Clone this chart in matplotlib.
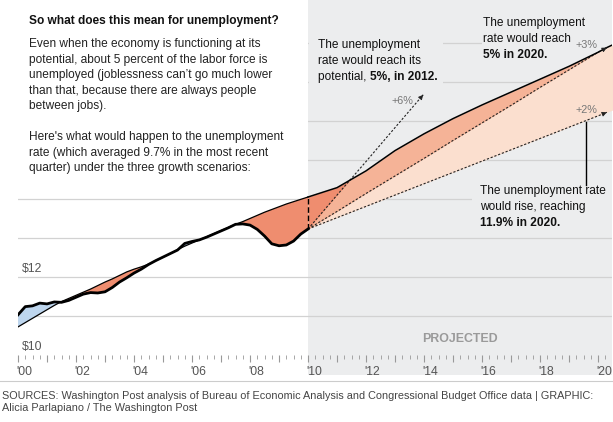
import matplotlib.pyplot as plt
import matplotlib.transforms as mtransforms
from matplotlib.patches import Rectangle
from matplotlib.lines import Line2D
import numpy as np

plt.rcParams['font.family'] = ['Liberation Sans', 'DejaVu Sans']

# ---- data (trillions of dollars) ----
hist_years = np.arange(2000, 2010.01, 0.25)
actual_gdp = [11.03, 11.24, 11.26, 11.33, 11.31, 11.36, 11.35, 11.40, 11.48, 11.56,
              11.60, 11.59, 11.62, 11.73, 11.87, 11.98, 12.10, 12.20, 12.32, 12.42,
              12.51, 12.60, 12.69, 12.86, 12.91, 12.95, 13.02, 13.10, 13.18, 13.26,
              13.35, 13.36, 13.33, 13.22, 13.05, 12.85, 12.80, 12.82, 12.92, 13.10,
              13.23]
potential_hist = [10.72, 10.83, 10.94, 11.05, 11.16, 11.27, 11.37, 11.45, 11.53, 11.61,
                  11.69, 11.78, 11.87, 11.95, 12.04, 12.13, 12.20, 12.26, 12.33, 12.42,
                  12.51, 12.60, 12.70, 12.79, 12.87, 12.95, 13.03, 13.11, 13.19, 13.27,
                  13.35, 13.42, 13.50, 13.58, 13.66, 13.73, 13.80, 13.87, 13.93, 13.99,
                  14.05]

proj_years = [2010, 2011, 2012, 2013, 2014, 2015, 2016, 2017, 2018, 2019, 2020, 2020.3, 2020.5]
potential_proj = [14.05, 14.29, 14.72, 15.24, 15.67, 16.06, 16.41, 16.74, 17.07, 17.40, 17.76, 17.88, 17.95]
growth_2pct = [13.23, 13.52, 13.81, 14.10, 14.39, 14.68, 14.97, 15.26, 15.55, 15.84, 16.13, 16.22, 16.28]
growth_3pct = [13.23, 13.68, 14.14, 14.59, 15.04, 15.50, 15.95, 16.40, 16.86, 17.31, 17.76, 17.88]
growth_6_years = [2010, 2011, 2012, 2013, 2013.97]
growth_6pct = [13.23, 14.10, 14.96, 15.83, 16.67]

y_labels = [10, 12]
grid_values = [11, 12, 13, 14, 15, 16, 17, 18]

# ---- colours ----
grey_bg = '#ecedee'
salmon = '#ef8d6f'
salmon_mid = '#f5b397'
salmon_light = '#fbdfcf'
blue = '#bed6ee'

FS = 8.6

fig = plt.figure(figsize=(6.13, 4.22), dpi=100)
ax = fig.add_axes([18 / 613, 67 / 422, 594 / 613, 355 / 422])
ax.set_xlim(2000, 2020.48)
ax.set_ylim(10, 19.1)
for s in ax.spines.values():
    s.set_visible(False)

# projected background (extends under the tick labels)
bt = mtransforms.blended_transform_factory(ax.transData, ax.transAxes)
ax.add_patch(Rectangle((2010, -0.057), 10.48, 1.057, transform=bt, facecolor=grey_bg,
                       edgecolor='none', clip_on=False, zorder=0))

for v in grid_values:
    ax.axhline(v, color='#d2d2d2', lw=0.9, zorder=1)

# boxes behind text blocks hide the gridlines
ax.add_patch(Rectangle((2000, 14.5), 10, 5, facecolor='white', edgecolor='none', zorder=1.5))
ax.add_patch(Rectangle((2010.05, 16.6), 4.6, 3, facecolor=grey_bg, edgecolor='none', zorder=1.5))
ax.add_patch(Rectangle((2016.0, 17.4), 5, 2, facecolor=grey_bg, edgecolor='none', zorder=1.5))
ax.add_patch(Rectangle((2015.66, 13.6), 5, 0.85, facecolor=grey_bg, edgecolor='none', zorder=1.5))

# historical gaps
act = np.array(actual_gdp)
pot = np.array(potential_hist)
ax.fill_between(hist_years, act, pot, where=act >= pot, interpolate=True,
                color=blue, lw=0, zorder=2)
ax.fill_between(hist_years, act, pot, where=act <= pot, interpolate=True,
                color=salmon, lw=0, zorder=2)

# projected gaps
ax.fill_between(proj_years, growth_2pct, potential_proj, color=salmon_light, lw=0, zorder=2)
ax.fill_between(proj_years[:12], growth_3pct, potential_proj[:12], color=salmon_mid, lw=0, zorder=2)
p3 = np.array(potential_proj[:3])
g6 = np.array(growth_6pct[:3])
ax.fill_between(proj_years[:3], g6, p3, where=p3 >= g6, interpolate=True,
                color=salmon, lw=0, zorder=2)

# scenario lines with arrowheads
for xs, ys in [(growth_6_years, growth_6pct),
               (proj_years[:12], growth_3pct),
               (proj_years[:12], growth_2pct[:12])]:
    ax.plot(xs, ys, color='#222', lw=0.8, ls=(0, (2.0, 1.6)), zorder=3)
    x1, y1 = xs[-1], ys[-1]
    x0, y0 = xs[-2], ys[-2]
    ax.annotate('', xy=(x1, y1), xytext=(x1 - 0.02 * (x1 - x0), y1 - 0.02 * (y1 - y0)),
                arrowprops=dict(arrowstyle='-|>', color='#222', lw=0.6, mutation_scale=7,
                                shrinkA=0, shrinkB=0), zorder=4)

ax.plot(hist_years, potential_hist, color='black', lw=0.9, zorder=3)
ax.plot(proj_years, potential_proj, color='black', lw=1.1, zorder=3)
ax.plot(hist_years, actual_gdp, color='black', lw=2.0, zorder=4, solid_joinstyle='round')
ax.plot([2010, 2010], [actual_gdp[-1], potential_hist[-1]], color='black', lw=1.0,
        ls=(0, (4, 2)), zorder=4)

# axis ruler
years = list(range(2000, 2021))
ax.set_xticks(years)
ax.set_xticklabels(["'%02d" % (y % 100) if y % 2 == 0 else '' for y in years],
                   ha='left', fontsize=8.8, color='#555')
ax.set_xticks(np.arange(2000, 2020.5, 0.25), minor=True)
ax.tick_params(axis='x', which='major', length=5, width=0.8, color='#999', pad=3)
ax.tick_params(axis='x', which='minor', length=3, width=0.6, color='#999')
off = mtransforms.ScaledTranslation(-2 / 100, 0, fig.dpi_scale_trans)
for lab in ax.get_xticklabels():
    lab.set_transform(lab.get_transform() + off)
ax.set_yticks([])
for v in y_labels:
    ax.text(2000.12, v + 0.05, '$%d' % v, fontsize=8.8, color='#555', va='bottom', zorder=5)

ax.text(2015.24, 10.41, 'PROJECTED', fontsize=8.9, weight='bold', color='#9a9a9a',
        ha='center', va='center', zorder=5)

# intro text
fig.text(29 / 613, 1 - 15 / 422, 'So what does this mean for unemployment?', fontsize=8.6,
         weight='bold', va='top', color='#111')
fig.text(29 / 613, 1 - 38 / 422,
         "Even when the economy is functioning at its\n"
         "potential, about 5 percent of the labor force is\n"
         "unemployed (joblessness can\u2019t go much lower\n"
         "than that, because there are always people\n"
         "between jobs).\n\n"
         "Here's what would happen to the unemployment\n"
         "rate (which averaged 9.7% in the most recent\n"
         "quarter) under the three growth scenarios:",
         fontsize=FS, va='top', color='#222', linespacing=1.39)


# annotations
def note(x, y, lines, bold):
    for i, ln in enumerate(lines):
        if ln:
            ax.text(x, y[i], ln, fontsize=FS, color='#111', va='baseline', zorder=5)
    if lines[-1]:
        ax.annotate(bold, xy=(1, 0), xycoords=ax.texts[-1], fontsize=FS, weight='bold',
                    color='#111', va='bottom', zorder=5)
    else:
        ax.text(x, y[-1], bold, fontsize=FS, weight='bold', color='#111',
                va='baseline', zorder=5)


note(2010.34, [17.87, 17.46, 17.05], ['The unemployment', 'rate would reach its', 'potential, '],
     '5%, in 2012.')
note(2016.03, [18.44, 18.03, 17.62], ['The unemployment', 'rate would reach', ''],
     '5% in 2020.')
note(2015.93, [14.13, 13.72, 13.31], ['The unemployment rate', 'would rise, reaching', ''],
     '11.9% in 2020.')

ax.text(2013.24, 16.44, '+6%', fontsize=7.8, color='#777', ha='center', va='baseline', zorder=5)
ax.text(2019.6, 17.87, '+3%', fontsize=7.8, color='#777', ha='center', va='baseline', zorder=5)
ax.text(2019.6, 16.2, '+2%', fontsize=7.8, color='#777', ha='center', va='baseline', zorder=5)
ax.plot([2019.59, 2019.59], [15.97, 14.36], color='black', lw=1.0, zorder=4)

# footer
fig.add_artist(Line2D([0, 1], [1 - 381 / 422, 1 - 381 / 422], color='#cccccc', lw=0.8))
fig.text(2 / 613, 1 - 391 / 422,
         "SOURCES: Washington Post analysis of Bureau of Economic Analysis and Congressional "
         "Budget Office data | GRAPHIC:\nAlicia Parlapiano / The Washington Post",
         fontsize=7.85, color='#444', va='top', linespacing=1.3)

fig.savefig('out.png', dpi=100)
